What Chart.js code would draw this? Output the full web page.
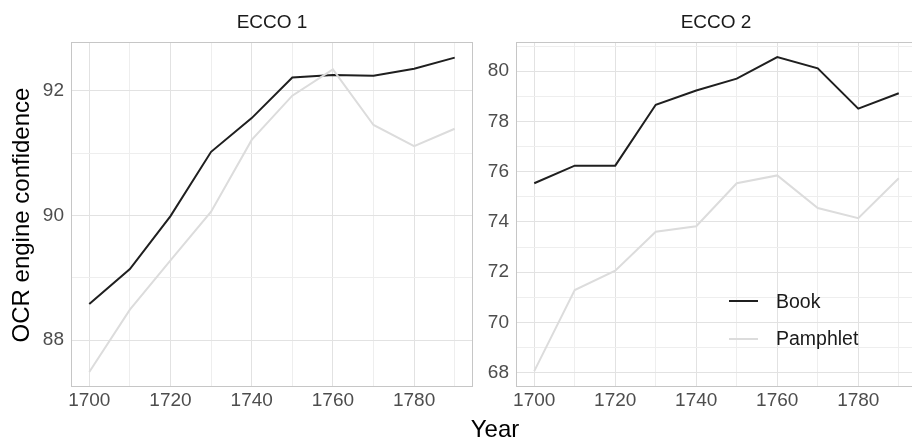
<!DOCTYPE html>
<html><head><meta charset="utf-8">
<script src="https://cdn.jsdelivr.net/npm/chart.js@4.4.1/dist/chart.umd.min.js"></script>
<style>
html,body{margin:0;padding:0;background:#fff;}
#wrap{position:relative;width:912px;height:438px;overflow:hidden;font-family:"Liberation Sans",Arial,Helvetica,sans-serif;}
.cw{position:absolute;top:0;height:438px;}
.strip{position:absolute;top:12px;width:300px;text-align:center;font-size:19px;line-height:19px;color:#1a1a1a;}
#ytitle{position:absolute;left:-179px;top:200.5px;width:400px;height:28px;line-height:28px;text-align:center;font-size:24px;color:#000;transform:rotate(-90deg);transform-origin:50% 50%;}
#xtitle{position:absolute;left:395px;top:417px;width:200px;text-align:center;font-size:24px;line-height:24px;color:#000;}
.lrow{position:absolute;left:729px;height:24px;display:flex;align-items:center;font-size:19.5px;color:#1a1a1a;}
.lkey{width:29px;height:2px;margin-right:18px;}
</style></head><body>
<div id="wrap">
  <div class="cw" style="left:0;width:474px"><canvas id="c1"></canvas></div>
  <div class="cw" style="left:474px;width:444px"><canvas id="c2"></canvas></div>
  <div class="strip" id="s1" style="left:122px"></div>
  <div class="strip" id="s2" style="left:566px"></div>
  <div id="ytitle">OCR engine confidence</div>
  <div id="xtitle">Year</div>
  <div id="legend"></div>
</div>
<script>
// ---- data ----
const years = [1700, 1710, 1720, 1730, 1740, 1750, 1760, 1770, 1780, 1790];
const panelTitles = ["ECCO 1", "ECCO 2"];
const seriesNames = ["Book", "Pamphlet"];
const ecco1Book     = [88.58, 89.14, 89.99, 91.02, 91.56, 92.21, 92.25, 92.24, 92.35, 92.53];
const ecco1Pamphlet = [87.49, 88.49, 89.28, 90.06, 91.21, 91.92, 92.34, 91.45, 91.11, 91.39];
const ecco2Book     = [75.54, 76.24, 76.24, 78.66, 79.23, 79.70, 80.56, 80.11, 78.51, 79.12];
const ecco2Pamphlet = [68.06, 71.29, 72.06, 73.61, 73.83, 75.54, 75.85, 74.55, 74.15, 75.74];
const xTickLabels  = [1700, 1720, 1740, 1760, 1780];
const y1TickLabels = [88, 90, 92];
const y2TickLabels = [68, 70, 72, 74, 76, 78, 80];

// ---- style ----
const FONT = "'Liberation Sans', Arial, Helvetica, sans-serif";
const colors = {Book: "#1f1f1f", Pamphlet: "#dcdcdc"};
const MAJOR = "#e2e2e2", MINOR = "#eeeeee", FRAME = "#c6c6c6";

const frame = {
  id: "frame",
  afterDraw(chart) {
    const a = chart.chartArea, c = chart.ctx;
    c.save();
    c.strokeStyle = FRAME; c.lineWidth = 1;
    c.strokeRect(Math.round(a.left) + 0.5, Math.round(a.top) + 0.5,
                 Math.round(a.right - a.left) - 1, Math.round(a.bottom - a.top) - 1);
    c.restore();
  }
};

function pts(vals) { return years.map((y, i) => ({x: y, y: vals[i]})); }

function makeChart(id, bookVals, pamphVals, ymin, ymax, yLabels, yWidth) {
  const yMinor = [];
  for (let v = Math.ceil(ymin); v <= Math.floor(ymax); v++) yMinor.push(v);
  return new Chart(document.getElementById(id), {
    type: "line",
    data: {
      datasets: [
        {label: seriesNames[0], data: pts(bookVals), borderColor: colors.Book, backgroundColor: colors.Book,
         borderWidth: 2, pointRadius: 0, tension: 0, order: 1},
        {label: seriesNames[1], data: pts(pamphVals), borderColor: colors.Pamphlet, backgroundColor: colors.Pamphlet,
         borderWidth: 2, pointRadius: 0, tension: 0, order: 0}
      ]
    },
    options: {
      responsive: true, maintainAspectRatio: false, animation: false,
      layout: {padding: {top: 42, right: 1, bottom: 0, left: 0}},
      plugins: {legend: {display: false}, tooltip: {enabled: false}, title: {display: false}},
      scales: {
        x: {
          type: "linear", min: 1695.5, max: 1794.5,
          afterBuildTicks: s => { s.ticks = years.map(v => ({value: v})); },
          afterFit: s => { s.height = 51; },
          border: {display: false},
          grid: {drawTicks: false, lineWidth: 1,
                 color: c => xTickLabels.includes(c.tick && c.tick.value) ? MAJOR : MINOR},
          ticks: {padding: 2, autoSkip: false, maxRotation: 0, color: "#4d4d4d",
                  font: {family: FONT, size: 19},
                  callback: v => xTickLabels.includes(v) ? String(v) : ""}
        },
        y: {
          type: "linear", min: ymin, max: ymax,
          afterBuildTicks: s => { s.ticks = yMinor.map(v => ({value: v})); },
          afterFit: s => { s.width = yWidth; },
          border: {display: false},
          grid: {drawTicks: false, lineWidth: 1,
                 color: c => yLabels.includes(c.tick && c.tick.value) ? MAJOR : MINOR},
          ticks: {padding: 7, autoSkip: false, color: "#4d4d4d",
                  font: {family: FONT, size: 19},
                  callback: v => yLabels.includes(v) ? String(v) : ""}
        }
      }
    },
    plugins: [frame]
  });
}

const ch1 = makeChart("c1", ecco1Book, ecco1Pamphlet, 87.25, 92.78, y1TickLabels, 71);
const ch2 = makeChart("c2", ecco2Book, ecco2Pamphlet, 67.43, 81.16, y2TickLabels, 42);

document.getElementById("s1").textContent = panelTitles[0];
document.getElementById("s2").textContent = panelTitles[1];

// legend built from chart datasets
const legend = document.getElementById("legend");
const rowCenters = [301, 338.5];
ch2.data.datasets.forEach((ds, i) => {
  const row = document.createElement("div");
  row.className = "lrow";
  row.style.top = (rowCenters[i] - 12) + "px";
  const key = document.createElement("span");
  key.className = "lkey"; key.style.background = ds.borderColor;
  const txt = document.createElement("span");
  txt.textContent = ds.label;
  row.appendChild(key); row.appendChild(txt);
  legend.appendChild(row);
});
</script>
</body></html>
